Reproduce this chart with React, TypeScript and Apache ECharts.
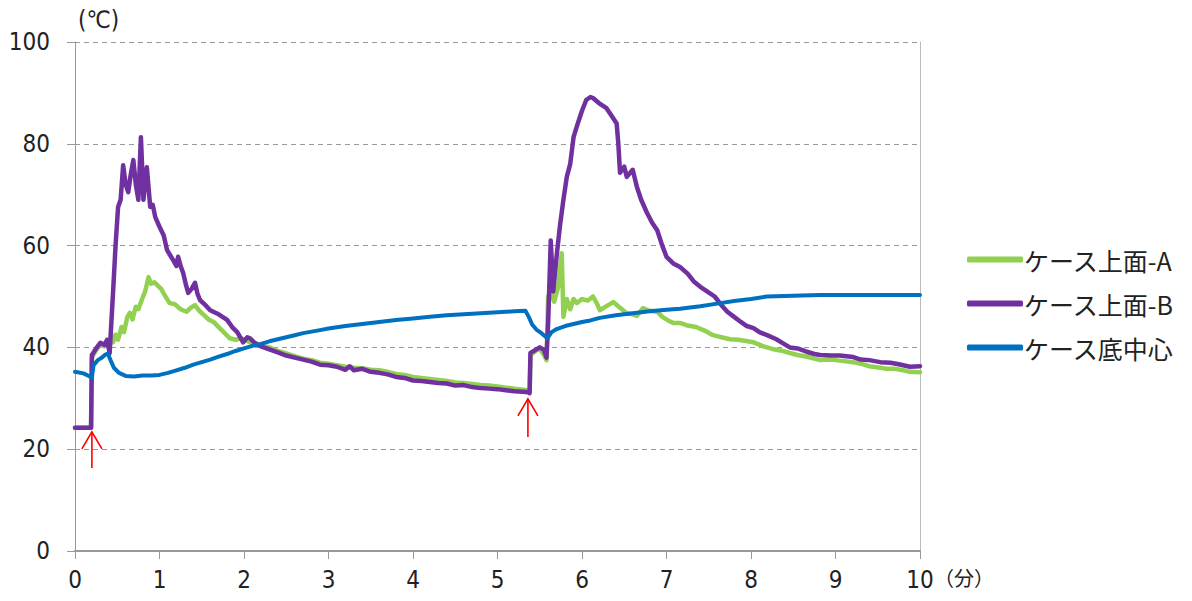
import { useEffect, useRef } from "react";
import * as echarts from "echarts";

// time (min), temperature (°C)
const seriesNames = ["ケース上面-A", "ケース上面-B", "ケース底中心"];
const seriesColors = ["#92D050", "#7030A0", "#0070C0"];

const topA: number[][] = [
  [0, 24.2], [0.19, 24.2], [0.2, 38], [0.25, 39.5], [0.3, 40.5], [0.35, 40.2], [0.4, 41], [0.45, 41],
  [0.48, 42.5], [0.51, 41.5], [0.55, 44], [0.58, 43], [0.62, 46], [0.65, 46.8], [0.68, 45.5], [0.72, 48],
  [0.75, 47.5], [0.79, 49.3], [0.83, 51], [0.87, 53.8], [0.9, 52.5], [0.94, 52.8], [0.97, 52.3], [1.02, 51.5],
  [1.07, 50], [1.12, 48.7], [1.18, 48.5], [1.25, 47.5], [1.32, 47], [1.37, 47.8], [1.42, 48.3], [1.47, 47.2],
  [1.53, 46.3], [1.58, 45.5], [1.64, 45], [1.7, 44], [1.76, 43], [1.83, 41.8], [1.9, 41.5], [1.97, 41.8],
  [2.03, 41.3], [2.1, 40.8], [2.2, 40.5], [2.3, 40], [2.4, 39.3], [2.5, 38.8], [2.6, 38.3], [2.7, 37.8],
  [2.8, 37.5], [2.9, 37], [3.0, 36.8], [3.1, 36.5], [3.2, 36.2], [3.3, 36], [3.4, 35.9], [3.5, 35.6],
  [3.6, 35.5], [3.7, 35.2], [3.8, 34.8], [3.9, 34.6], [4.0, 34.2], [4.1, 34], [4.2, 33.8], [4.3, 33.6],
  [4.4, 33.4], [4.5, 33.1], [4.6, 33], [4.7, 32.8], [4.8, 32.6], [4.9, 32.5], [5.0, 32.3], [5.1, 32.1],
  [5.2, 31.9], [5.3, 31.7], [5.36, 31.6], [5.38, 31.4], [5.39, 38.5], [5.45, 39.3], [5.5, 39.8], [5.55, 38.5],
  [5.58, 37.5], [5.6, 50], [5.63, 51], [5.67, 49], [5.72, 52], [5.76, 58.5], [5.78, 46], [5.82, 49.5],
  [5.86, 47.5], [5.9, 49.5], [5.94, 48.7], [6.0, 49.5], [6.07, 49.2], [6.13, 50], [6.18, 48.5], [6.21, 47.3],
  [6.28, 48], [6.37, 48.9], [6.45, 47.8], [6.53, 46.7], [6.6, 46.5], [6.65, 46.2], [6.72, 47.7], [6.8, 47.2],
  [6.89, 47], [6.95, 46], [7.02, 45.3], [7.08, 44.8], [7.16, 44.8], [7.25, 44.3], [7.35, 44], [7.45, 43.3],
  [7.55, 42.4], [7.65, 42], [7.75, 41.6], [7.85, 41.5], [8.03, 41], [8.15, 40.2], [8.25, 39.7], [8.35, 39.4],
  [8.46, 38.9], [8.55, 38.5], [8.65, 38.2], [8.75, 37.8], [8.82, 37.5], [8.95, 37.6], [9.05, 37.4], [9.21, 37.1],
  [9.3, 36.8], [9.4, 36.3], [9.53, 36], [9.6, 35.8], [9.7, 35.8], [9.8, 35.5], [9.88, 35.2], [10, 35.1],
];

const topB: number[][] = [
  [0, 24.2], [0.1, 24.2], [0.19, 24.2], [0.2, 38.5], [0.25, 39.8], [0.3, 40.9], [0.35, 40.5], [0.38, 41.5],
  [0.41, 38.9], [0.45, 50.7], [0.48, 60], [0.51, 67.6], [0.54, 69], [0.57, 75.8], [0.6, 72], [0.63, 70.5],
  [0.66, 74], [0.69, 76.8], [0.72, 72], [0.75, 69], [0.78, 81.3], [0.81, 69], [0.85, 75.4], [0.89, 67.6],
  [0.92, 68], [0.95, 65.6], [1.0, 63.7], [1.05, 62], [1.09, 59.1], [1.13, 58], [1.16, 57.2], [1.2, 56],
  [1.22, 57.8], [1.25, 56], [1.28, 54.6], [1.31, 52.5], [1.34, 50.7], [1.38, 51.5], [1.42, 52.7], [1.45, 50.5],
  [1.48, 49.3], [1.55, 48.2], [1.6, 47.3], [1.7, 46.5], [1.8, 45.4], [1.86, 44], [1.92, 43], [1.99, 41],
  [2.04, 42], [2.07, 41.8], [2.12, 41], [2.2, 40.2], [2.3, 39.6], [2.4, 39], [2.5, 38.4], [2.6, 38],
  [2.7, 37.6], [2.8, 37.2], [2.9, 36.6], [3.0, 36.5], [3.1, 36.2], [3.2, 35.6], [3.25, 36.3], [3.3, 35.5],
  [3.4, 35.8], [3.5, 35.2], [3.6, 35], [3.7, 34.7], [3.8, 34.2], [3.9, 34], [4.0, 33.5], [4.1, 33.4],
  [4.2, 33.2], [4.3, 33], [4.4, 32.9], [4.5, 32.5], [4.6, 32.6], [4.7, 32.2], [4.8, 32], [4.9, 31.9],
  [5.0, 31.8], [5.1, 31.6], [5.2, 31.4], [5.3, 31.3], [5.36, 31.2], [5.38, 31], [5.39, 38.9], [5.45, 39.5],
  [5.5, 40], [5.55, 39.5], [5.58, 38], [5.6, 45], [5.63, 61], [5.66, 51], [5.7, 58], [5.74, 64],
  [5.78, 69], [5.82, 73.5], [5.86, 76], [5.9, 81.3], [5.95, 84], [6.0, 86.5], [6.05, 88.6], [6.1, 89.2],
  [6.13, 89], [6.2, 88], [6.29, 87], [6.35, 85.5], [6.41, 84], [6.43, 80], [6.45, 74.3], [6.5, 75.5],
  [6.53, 73.5], [6.6, 74.9], [6.65, 71.5], [6.7, 69], [6.77, 66.4], [6.83, 64.5], [6.89, 63], [6.95, 60],
  [7.0, 57.8], [7.08, 56.5], [7.16, 55.8], [7.25, 54.5], [7.32, 53], [7.4, 51.9], [7.48, 51], [7.57, 50],
  [7.65, 48.3], [7.72, 47], [7.8, 46], [7.88, 45], [7.95, 44.2], [8.03, 43.8], [8.1, 43], [8.19, 42.4],
  [8.3, 41.6], [8.38, 40.8], [8.46, 40], [8.55, 39.8], [8.65, 39.2], [8.75, 38.7], [8.82, 38.5], [8.95, 38.4],
  [9.05, 38.4], [9.21, 38.1], [9.3, 37.6], [9.4, 37.5], [9.53, 37.1], [9.65, 37], [9.75, 36.7], [9.88, 36.2],
  [10, 36.3],
];

const bottomCenter: number[][] = [
  [0, 35.2], [0.1, 34.9], [0.2, 34.1], [0.22, 36.5], [0.27, 37.5], [0.32, 38], [0.36, 38.6], [0.39, 38.8],
  [0.42, 37.5], [0.46, 36], [0.52, 35], [0.6, 34.4], [0.7, 34.3], [0.8, 34.5], [0.9, 34.5], [1.0, 34.6],
  [1.1, 35], [1.2, 35.5], [1.3, 36], [1.4, 36.6], [1.5, 37.1], [1.6, 37.6], [1.7, 38.2], [1.8, 38.7],
  [1.9, 39.3], [2.0, 39.8], [2.1, 40.3], [2.2, 40.7], [2.3, 41.2], [2.4, 41.6], [2.5, 42], [2.6, 42.4],
  [2.7, 42.8], [2.8, 43.1], [2.9, 43.4], [3.0, 43.7], [3.2, 44.2], [3.4, 44.6], [3.6, 45], [3.8, 45.4],
  [4.0, 45.7], [4.2, 46], [4.4, 46.3], [4.6, 46.5], [4.8, 46.7], [5.0, 46.9], [5.2, 47.1], [5.33, 47.2],
  [5.37, 46], [5.41, 44.5], [5.46, 43.5], [5.52, 42.8], [5.59, 41.8], [5.64, 43], [5.7, 43.6], [5.8, 44.2],
  [5.9, 44.6], [6.0, 45], [6.1, 45.3], [6.21, 45.8], [6.4, 46.3], [6.6, 46.7], [6.8, 47.1], [7.0, 47.4],
  [7.16, 47.6], [7.4, 48.1], [7.6, 48.6], [7.8, 49.1], [8.0, 49.5], [8.19, 50], [8.4, 50.1], [8.6, 50.2],
  [8.82, 50.3], [9.0, 50.3], [9.5, 50.3], [10, 50.3],
];

// heating-start markers: [time, tail value, tip value]
const arrowTimes = [0.2, 5.36];
const arrowTails = [16.3, 22.4];
const arrowTips = [23.4, 29.9];

const yUnit = "(℃)";
const xUnit = "（分）";

const numFont = "'Liberation Sans Narrow', 'Arial Narrow', 'DejaVu Sans Condensed', sans-serif";
const jpFont = "'Noto Sans CJK JP', sans-serif";

export default function App() {
  const ref = useRef<HTMLDivElement>(null);
  useEffect(() => {
    const chart = echarts.init(ref.current!, null, { renderer: "svg" });
    const lineData = [topA, topB, bottomCenter];
    const arrows = arrowTimes.map((t, i) => [t, arrowTails[i], arrowTips[i]]);
    chart.setOption({
      animation: false,
      backgroundColor: "#fff",
      grid: { left: 75, right: 272, top: 42, bottom: 50 },
      legend: {
        orient: "vertical",
        left: 962,
        top: 242,
        itemWidth: 56,
        itemHeight: 6,
        itemGap: 19,
        icon: "roundRect",
        data: seriesNames,
        textStyle: { fontFamily: jpFont, fontSize: 25, lineHeight: 24, color: "#222", padding: [0, 0, 0, -4] },
      },
      xAxis: {
        type: "value",
        min: 0,
        max: 10,
        interval: 1,
        axisLine: { show: true, lineStyle: { color: "#999", width: 2 } },
        axisTick: { show: true, length: 8, lineStyle: { color: "#999" } },
        splitLine: { show: false },
        axisLabel: { margin: 17, fontFamily: numFont, fontSize: 24, color: "#222" },
      },
      yAxis: [
        {
          type: "value",
          min: 0,
          max: 100,
          interval: 20,
          axisLine: { show: true, lineStyle: { color: "#999", width: 1 } },
          axisTick: { show: true, length: 8, lineStyle: { color: "#999" } },
          splitLine: { show: true, lineStyle: { type: [5, 4], color: "#999", width: 1 } },
          axisLabel: { margin: 25, fontFamily: numFont, fontSize: 24, color: "#222" },
        },
        {
          type: "value",
          min: 0,
          max: 100,
          interval: 20,
          position: "right",
          axisLine: { show: true, lineStyle: { color: "#bbb", width: 1 } },
          axisTick: { show: false },
          splitLine: { show: false },
          axisLabel: { show: false },
        },
      ],
      series: [
        ...lineData.map((d, i) => ({
          name: seriesNames[i],
          type: "line",
          data: d,
          showSymbol: false,
          symbol: "none",
          color: seriesColors[i],
          lineStyle: { width: i === 2 ? 4 : 4.5, color: seriesColors[i], join: "round", cap: "round" },
          z: 2 + i,
        })),
        {
          type: "custom",
          data: arrows,
          z: 10,
          renderItem: (params: any, api: any) => {
            const tail = api.coord([api.value(0), api.value(1)]);
            const tip = api.coord([api.value(0), api.value(2)]);
            const style = { stroke: "#FF0000", lineWidth: 1.6, fill: "none" };
            return {
              type: "group",
              children: [
                { type: "line", shape: { x1: tail[0], y1: tail[1], x2: tip[0], y2: tip[1] }, style },
                {
                  type: "polyline",
                  shape: { points: [[tip[0] - 10, tip[1] + 17], [tip[0], tip[1]], [tip[0] + 10, tip[1] + 17]] },
                  style,
                },
              ],
            };
          },
        },
      ],
      graphic: [
        {
          type: "text",
          left: 78,
          top: 8,
          style: { text: yUnit, fontFamily: numFont, fontSize: 24, fill: "#222" },
        },
        {
          type: "text",
          left: 934,
          top: 567,
          style: { text: xUnit, fontFamily: jpFont, fontSize: 20, fill: "#222" },
        },
      ],
    });
    return () => chart.dispose();
  }, []);
  return <div ref={ref} style={{ position: "fixed", left: 0, top: 0, width: 1192, height: 601 }} />;
}
